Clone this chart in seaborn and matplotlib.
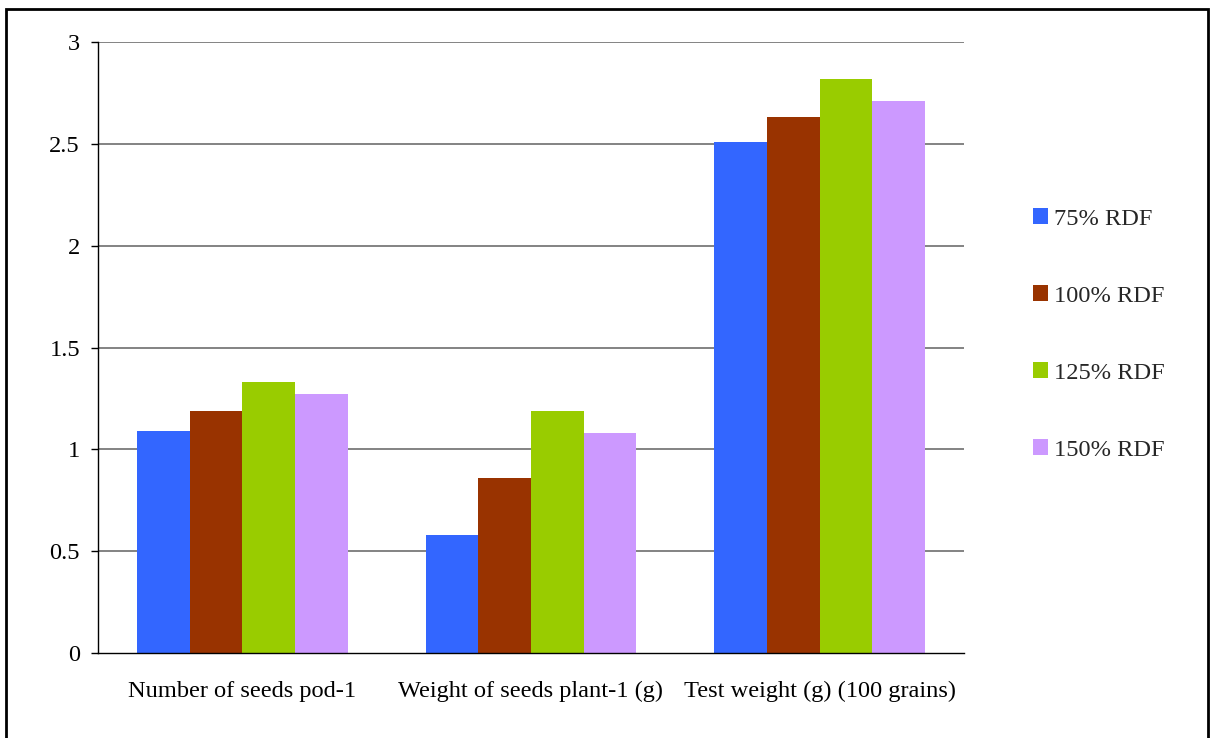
import matplotlib
matplotlib.use("Agg")
import matplotlib.pyplot as plt
from matplotlib.patches import Rectangle
import seaborn as sns
import pandas as pd

# Yield attributes under four fertilizer doses
attributes = ["Number of seeds pod-1", "Weight of seeds plant-1 (g)", "Test weight (g) (100 grains)"]
doses = ["75% RDF", "100% RDF", "125% RDF", "150% RDF"]
rdf_75 = [1.09, 0.58, 2.51]
rdf_100 = [1.19, 0.86, 2.63]
rdf_125 = [1.33, 1.19, 2.82]
rdf_150 = [1.27, 1.08, 2.71]
colors = ["#3366FF", "#993300", "#99CC00", "#CC99FF"]

rows = []
for dose, vals in zip(doses, [rdf_75, rdf_100, rdf_125, rdf_150]):
    for attr, v in zip(attributes, vals):
        rows.append({"attribute": attr, "dose": dose, "value": v})
df = pd.DataFrame(rows)

sns.set_style("white")
plt.rcParams["font.family"] = ["Liberation Serif", "DejaVu Serif"]

FS = 17.6
W, H = 1211, 738
fig = plt.figure(figsize=(W / 100, H / 100), dpi=100)
ax = fig.add_axes([98 / W, (H - 653) / H, (964 - 98) / W, (653 - 42) / H])

sns.barplot(data=df, x="attribute", y="value", hue="dose", order=attributes,
            hue_order=doses, palette=colors, width=0.73, saturation=1,
            edgecolor="none", linewidth=0, legend=False, ax=ax, zorder=3)

ax.set_xlim(-0.5, 2.5)
ax.set_ylim(0, 3)
ax.set_yticks([0, 0.5, 1, 1.5, 2, 2.5, 3])
ax.set_yticklabels(["0", "0.5", "1", "1.5", "2", "2.5", "3"])
ax.set_xticks([0, 1, 2])
ax.set_xticklabels(attributes)
ax.set_xticks([-0.5, 0.5, 1.5, 2.5], minor=True)
ax.set_xlabel("")
ax.set_ylabel("")

ax.tick_params(axis="x", which="major", length=0, pad=20, labelsize=FS, colors="black")
ax.tick_params(axis="x", which="minor", length=4.3, width=1, direction="out", color="black")
ax.tick_params(axis="y", length=5, width=1, direction="out", pad=8, labelsize=FS,
               colors="black", left=True)

for y in [0.5, 1, 1.5, 2, 2.5, 3]:
    ax.axhline(y, color="#6e6e6e", lw=1.2, zorder=1)

for side in ["top", "right"]:
    ax.spines[side].set_visible(False)
for side in ["left", "bottom"]:
    ax.spines[side].set_color("black")
    ax.spines[side].set_linewidth(1)
    ax.spines[side].set_zorder(4)

handles = [Rectangle((0, 0), 1, 1, facecolor=c, edgecolor="none") for c in colors]
fig.legend(handles, doses, loc="upper left", bbox_to_anchor=(1033 / W, 1 - 208 / H),
           frameon=False, fontsize=FS, handlelength=0.62, handleheight=0.62,
           handletextpad=0.25, labelspacing=2.27, borderaxespad=0, borderpad=0)

fig.add_artist(Rectangle((6 / W, -0.05), (1208 - 6) / W, 1.05 - 9 / H,
                         transform=fig.transFigure, fill=False,
                         edgecolor="black", linewidth=2))

fig.savefig("out.png", dpi=100)
